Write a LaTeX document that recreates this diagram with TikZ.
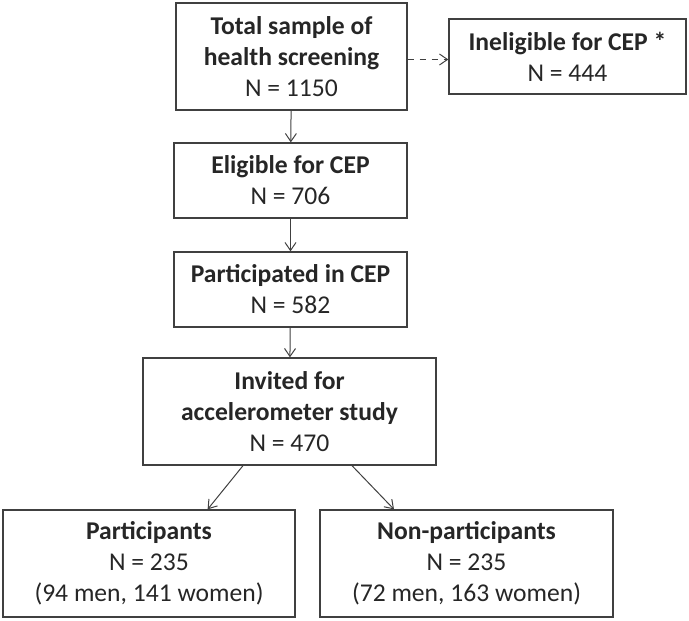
\documentclass[tikz,border=0pt]{standalone}
\usepackage{fontspec}
\setmainfont{Carlito}
\usetikzlibrary{arrows.meta}
\begin{document}
\begin{tikzpicture}[x = 0.5pt, y = -0.5pt,
  box/.style = {draw = black!75, line width = 0.65pt, rectangle, align = center,
    text = black!85, inner sep = 0pt, minimum height = 37.5pt,
    font = \fontsize{12.8}{15.5}\selectfont},
  tall/.style = {minimum height = 53.5pt},
  link/.style = {draw = black!75, line width = 0.5pt,
    -{Straight Barb[length = 4pt, width = 5.5pt]}}]
\useasboundingbox (0,0) rectangle (689,620);

\node [box, tall, minimum width = 115.5pt] (total) at (291.5,56.5)
  {\textbf{Total sample of}\\\textbf{health screening}\\N = 1150};
\node [box, minimum width = 118.5pt] (inelig) at (567.5,56.5)
  {\textbf{Ineligible for CEP *}\\N = 444};
\node [box, minimum width = 116.5pt] (elig) at (290.5,180.5)
  {\textbf{Eligible for CEP}\\N = 706};
\node [box, minimum width = 116.5pt] (partcep) at (290.5,289.5)
  {\textbf{Participated in CEP}\\N = 582};
\node [box, tall, minimum width = 146.5pt] (invited) at (289.5,411.5)
  {\textbf{Invited for}\\\textbf{accelerometer study}\\N = 470};
\node [box, tall, minimum width = 146pt] (part) at (149,563.5)
  {\textbf{Participants}\\N = 235\\(94 men, 141 women)};
\node [box, tall, minimum width = 146.5pt] (nonpart) at (466.5,563.5)
  {\textbf{Non-participants}\\N = 235\\(72 men, 163 women)};

\draw [link, dashed] ([yshift = -1.5pt]total.east) -- ([yshift = -1.5pt]inelig.west);
\draw [link] (total) -- (elig);
\draw [link] (elig) -- (partcep);
\draw [link] (partcep) -- (invited);
\draw [link] ([xshift = -23.25pt]invited.south) -- ([xshift = 29.3pt]part.north);
\draw [link] ([xshift = 31.25pt]invited.south) -- ([xshift = -36.25pt]nonpart.north);
\end{tikzpicture}
\end{document}
